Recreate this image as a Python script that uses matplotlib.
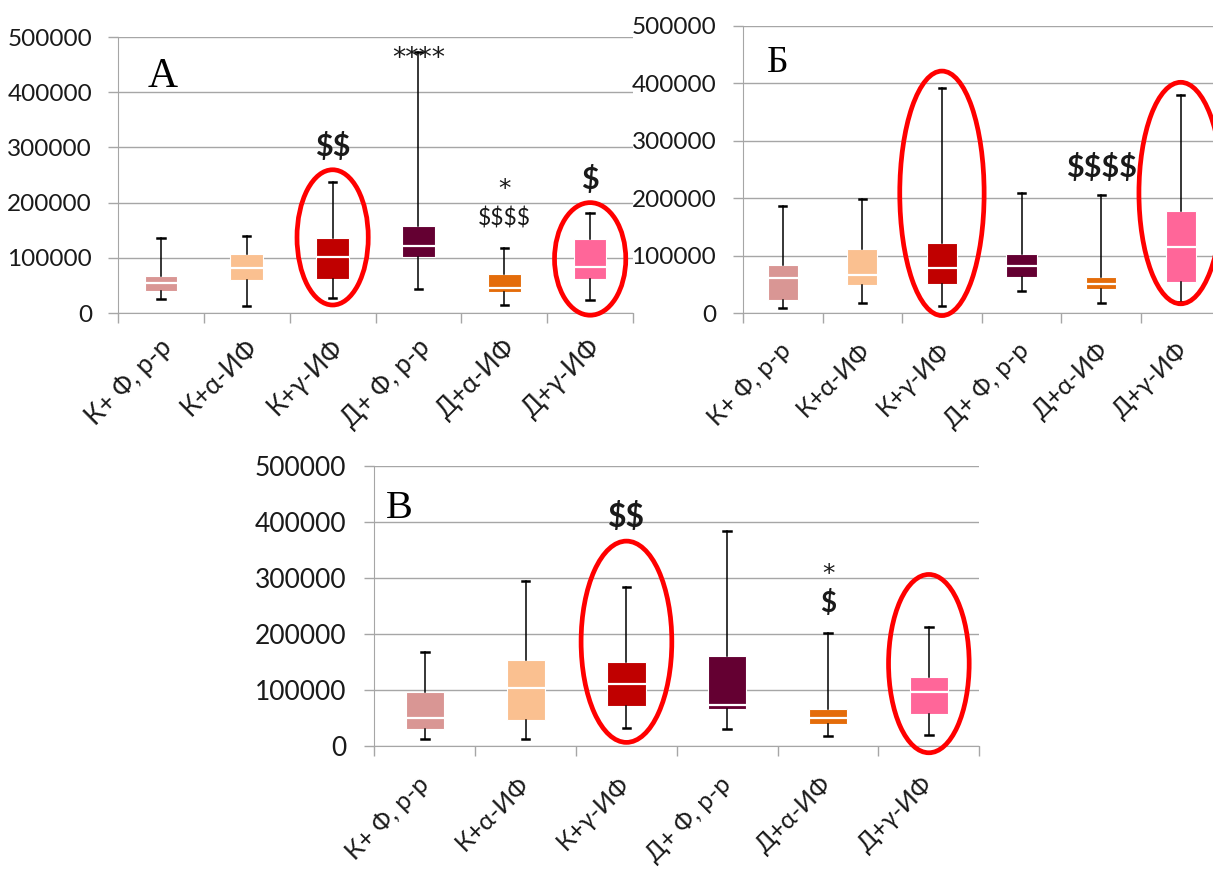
import matplotlib
matplotlib.use("Agg")
import matplotlib.pyplot as plt
from matplotlib.patches import Ellipse
from matplotlib.transforms import ScaledTranslation

plt.rcParams['font.family'] = ['Lato', 'DejaVu Sans']
plt.rcParams['text.parse_math'] = False

categories = ["К+ Ф, р-р", "К+α-ИФ", "К+γ-ИФ", "Д+ Ф, р-р", "Д+α-ИФ", "Д+γ-ИФ"]
box_colors = ["#D99694", "#FAC090", "#C00000", "#640032", "#E46C0A", "#FF6699"]
y_ticks = [0, 100000, 200000, 300000, 400000, 500000]

# Panel А
a_low = [25000, 12000, 27000, 43500, 15300, 24000]
a_q1 = [39000, 59000, 61000, 101000, 37300, 61300]
a_med = [54800, 80700, 101000, 122300, 45500, 84000]
a_q3 = [67500, 107000, 135300, 157700, 71500, 133800]
a_high = [136700, 139800, 237000, 473000, 117600, 180700]

# Panel Б
b_low = [8700, 18500, 13300, 39400, 18500, 20000]
b_q1 = [23200, 49000, 50400, 63700, 41700, 55000]
b_med = [61400, 66000, 79400, 82300, 51600, 114700]
b_q3 = [83400, 111000, 122800, 103000, 62600, 177300]
b_high = [187000, 198700, 392000, 209000, 205700, 379500]

# Panel В
c_low = [13000, 13000, 31500, 29700, 18400, 19600]
c_q1 = [29700, 46400, 72000, 66600, 38600, 56500]
c_med = [50500, 103400, 111000, 73700, 50500, 96300]
c_q3 = [96300, 154000, 150400, 160500, 65400, 122500]
c_high = [167000, 294000, 283600, 383000, 202000, 212000]

# Dollar marks: (category index, value, text, size, weight)
a_dollars = [(2, 301000, "$$", 22, "bold"), (4, 172000, "$$$$", 16.5, "normal"),
             (5, 241000, "$", 22, "bold")]
b_dollars = [(4, 253000, "$$$$", 22, "bold")]
c_dollars = [(2, 409000, "$$", 23, "bold"), (4, 254500, "$", 20, "bold")]

# Asterisk marks, placed by baseline: (category index, value, text, size)
a_stars = [(3, 447000, "****", 19), (4, 212000, "*", 18)]
b_stars = []
c_stars = [(4, 295000, "*", 18)]

# Highlight ellipses: (category index, centre value, width in categories, height in values)
a_rings = [(2, 137000, 0.83, 245000), (5, 98000, 0.83, 204000)]
b_rings = [(2, 208500, 1.06, 425000), (5, 209000, 1.05, 385000)]
c_rings = [(2, 186000, 0.90, 359000), (5, 147000, 0.80, 318000)]

GRID = "#A6A6A6"
TEXT = "#1A1A1A"

fig = plt.figure(figsize=(12.13, 8.69), dpi=100)


def draw_panel(rect, low, q1, med, q3, high, dollars, stars, rings, letter,
               letter_xy, letter_size, ytick_size, xtick_size, ypad, xpad,
               xshift, cap_w):
    ax = fig.add_axes(rect)
    stats = [dict(whislo=lo, q1=a, med=m, q3=b, whishi=hi, fliers=[])
             for lo, a, m, b, hi in zip(low, q1, med, q3, high)]
    bp = ax.bxp(stats, positions=range(len(categories)), widths=0.38,
                capwidths=cap_w, patch_artist=True, showfliers=False,
                boxprops=dict(edgecolor="white", linewidth=0.8),
                medianprops=dict(color="white", linewidth=1.6),
                whiskerprops=dict(color="black", linewidth=1.1),
                capprops=dict(color="black", linewidth=1.8),
                manage_ticks=False, zorder=3)
    for patch, col in zip(bp["boxes"], box_colors):
        patch.set_facecolor(col)
        patch.set_zorder(3)
    for ln in bp["medians"]:
        ln.set_zorder(4)

    ax.set_xlim(-0.5, len(categories) - 0.5)
    ax.set_ylim(0, 500000)
    ax.set_yticks(y_ticks)
    ax.set_yticklabels([str(v) for v in y_ticks], fontsize=ytick_size,
                       color=TEXT)
    ax.yaxis.grid(True, color=GRID, linewidth=1.0, zorder=0)
    ax.set_axisbelow(True)

    ax.set_xticks([i - 0.5 for i in range(len(categories) + 1)])
    ax.set_xticklabels([])
    ax.set_xticks(range(len(categories)), minor=True)
    ax.set_xticklabels(categories, minor=True, rotation=45, ha="right",
                       va="center", rotation_mode="anchor",
                       fontsize=xtick_size, color=TEXT)
    ax.tick_params(axis="x", which="major", length=7.2, color=GRID, width=1.0)
    ax.tick_params(axis="x", which="minor", length=0, pad=xpad)
    ax.tick_params(axis="y", length=7.2, color=GRID, width=1.0, pad=ypad)
    shift = ScaledTranslation(xshift / 100, 0, fig.dpi_scale_trans)
    for lab in ax.get_xticklabels(minor=True):
        lab.set_transform(lab.get_transform() + shift)

    for side in ("top", "right"):
        ax.spines[side].set_visible(False)
    ax.spines["left"].set_color(GRID)
    ax.spines["bottom"].set_color(GRID)

    for idx, val, txt, size, weight in dollars:
        ax.text(idx, val, txt, ha="center", va="center", fontsize=size,
                fontweight=weight, color=TEXT, zorder=6)
    for idx, val, txt, size in stars:
        ax.text(idx, val, txt, ha="center", va="baseline", fontsize=size,
                family="DejaVu Sans", color=TEXT, zorder=6)
    for idx, cy, w, h in rings:
        ax.add_patch(Ellipse((idx, cy), w, h, fill=False, edgecolor="#FF0000",
                             linewidth=3.4, zorder=5, clip_on=False))

    ax.text(letter_xy[0], letter_xy[1], letter, ha="center", va="baseline",
            fontsize=letter_size, family="Liberation Serif", color="black",
            zorder=6)
    return ax


draw_panel([0.0973, 0.6398, 0.4246, 0.3176], a_low, a_q1, a_med, a_q3, a_high,
           a_dollars, a_stars, a_rings, "А", (0.024, 409000), 30,
           17.5, 18.5, 11.5, 22, 7, 0.085)
draw_panel([0.6125, 0.6395, 0.3937, 0.3310], b_low, b_q1, b_med, b_q3, b_high,
           b_dollars, b_stars, b_rings, "Б", (-0.067, 420000), 27,
           17.5, 18, 12.0, 24, 4, 0.085)
draw_panel([0.3087, 0.1415, 0.4986, 0.3226], c_low, c_q1, c_med, c_q3, c_high,
           c_dollars, c_stars, c_rings, "В", (-0.252, 406000), 29,
           19, 18, 13.0, 25, 0, 0.075)

fig.savefig("out.png", dpi=100)
